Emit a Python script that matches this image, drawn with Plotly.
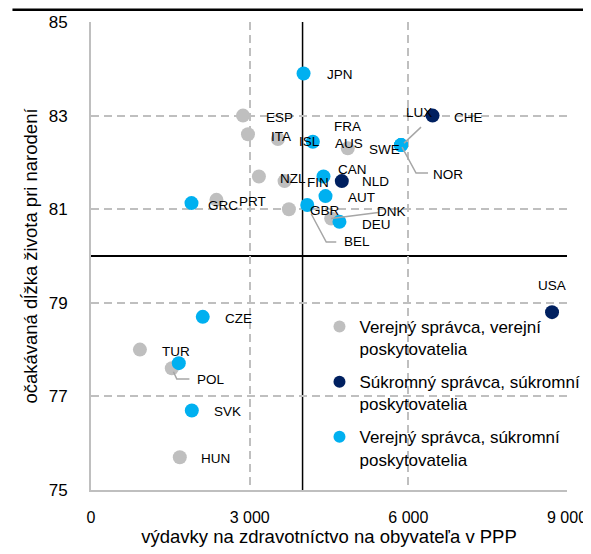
import plotly.graph_objects as go

# verejný správca, verejní poskytovatelia
gray_codes = ["ESP", "ITA", "ISL", "NZL", "FIN", "PRT", "GBR", "FRA", "DNK", "TUR", "POL", "HUN"]
gray_spend = [2874, 2968, 3534, 3175, 3660, 2372, 3742, 4855, 4542, 925, 1528, 1679]
gray_life = [83.0, 82.6, 82.5, 81.7, 81.6, 81.2, 81.0, 82.3, 80.8, 78.0, 77.6, 75.7]

# súkromný správca, súkromní poskytovatelia
navy_codes = ["CHE", "NLD", "USA"]
navy_spend = [6458, 4742, 8717]
navy_life = [83.0, 81.6, 78.8]

# verejný správca, súkromní poskytovatelia
blue_codes = ["JPN", "AUS", "SWE", "LUX", "NOR", "CAN", "AUT", "BEL", "DEU", "GRC", "CZE", "", "SVK"]
blue_spend = [4019, 4194, 5862, 5862, 5862, 4396, 4434, 4089, 4698, 1900, 2113, 1660, 1906]
blue_life = [83.9, 82.44, 82.37, 82.37, 82.37, 81.7, 81.28, 81.09, 80.73, 81.13, 78.7, 77.71, 76.7]

avg_spend = 4000
avg_life = 80

series_names = [
    "Verejný správca, verejní<br>poskytovatelia",
    "Súkromný správca, súkromní<br>poskytovatelia",
    "Verejný správca, súkromní<br>poskytovatelia",
]
colors = ["#BFBFBF", "#002060", "#00B0F0"]

FONT = "Liberation Sans, Arial, sans-serif"

# posun popiskov v px (doprava, dole)
default_off = (36, 1.5)
label_off = {
    "FRA": (0, -22), "CAN": (29, -7), "SWE": (-17, 4), "USA": (0, -27),
    "LUX": (18, -33), "NOR": (47, 29), "BEL": (50, 37), "DNK": (60, -7),
    "POL": (39, 11), "ISL": (32, 2), "GRC": (32, 2), "ITA": (33, 2),
    "NZL": (34, 2.5), "FIN": (33, 1), "NLD": (34, 0), "DEU": (37, 3),
}
# vodiace čiary v px od bodu
leaders = {
    "LUX": [(3, -2), (20, -18)],
    "NOR": [(1, 2), (15, 28), (27, 28)],
    "BEL": [(4, 9), (19, 37), (29, 37)],
    "DNK": [(0, 0), (47, -6)],
    "POL": [(1.6, 3.4), (5, 10.7), (17.6, 10.7)],
}

fig = go.Figure()
groups = [
    (gray_codes, gray_spend, gray_life),
    (navy_codes, navy_spend, navy_life),
    (blue_codes, blue_spend, blue_life),
]
for i, ((codes, xs, ys), name, col) in enumerate(zip(groups, series_names, colors)):
    fig.add_trace(go.Scatter(
        x=xs, y=ys, mode="markers", name=name, legendgroup=f"g{i}",
        marker=dict(color=col, size=14, line=dict(width=0)),
        hoverinfo="skip",
    ))

annotations = []
shapes = []
for codes, xs, ys in groups:
    for c, x, y in zip(codes, xs, ys):
        if not c:
            continue
        dx, dy = label_off.get(c, default_off)
        annotations.append(dict(
            x=x, y=y, xref="x", yref="y", text=c, showarrow=False,
            xshift=dx, yshift=-dy, xanchor="center", yanchor="middle",
            font=dict(family=FONT, size=13.5, color="#000000"),
        ))
        if c in leaders:
            pts = leaders[c]
            path = "M " + " L ".join(f"{px},{-py}" for px, py in pts)
            shapes.append(dict(
                type="path", xref="x", yref="y", xsizemode="pixel", ysizemode="pixel",
                xanchor=x, yanchor=y, path=path,
                line=dict(color="#A6A6A6", width=1.5),
            ))

# priemery
shapes.append(dict(type="line", xref="x", yref="paper", x0=avg_spend, x1=avg_spend, y0=0, y1=1,
                   line=dict(color="#000000", width=1.5), layer="between"))
shapes.append(dict(type="line", xref="paper", yref="y", x0=0, x1=1, y0=avg_life, y1=avg_life,
                   line=dict(color="#000000", width=2), layer="between"))
# horná čiara
shapes.append(dict(type="line", xref="paper", yref="paper", x0=-0.165, x1=1.038, y0=1.026, y1=1.026,
                   line=dict(color="#000000", width=2.5)))

# stránka má 8 px okraj, preto menší graf
fig.update_layout(
    width=583, height=546,
    margin=dict(l=83, r=24, t=14, b=64, autoexpand=False),
    plot_bgcolor="white", paper_bgcolor="white",
    separators=", ",
    font=dict(family=FONT, size=17, color="#000000"),
    showlegend=True,
    legend=dict(
        x=0.48, y=0.387, xanchor="left", yanchor="top",
        bgcolor="rgba(0,0,0,0)", valign="top", itemsizing="constant",
        traceorder="grouped", tracegroupgap=8,
        font=dict(family=FONT, size=17, color="#000000"),
    ),
    annotations=annotations,
    shapes=shapes,
    xaxis=dict(
        range=[0, 9000], tick0=0, dtick=3000, tickformat=",",
        showgrid=True, gridcolor="#BFBFBF", gridwidth=1.8, griddash="8px,5px",
        showline=True, linecolor="#BFBFBF", linewidth=2, zeroline=False,
        ticks="", ticklabelstandoff=12, automargin=False,
        tickfont=dict(family=FONT, size=16, color="#000000"),
        title=dict(text="výdavky na zdravotníctvo na obyvateľa v PPP", standoff=4,
                   font=dict(family=FONT, size=18.5, color="#000000")),
    ),
    yaxis=dict(
        range=[75, 85], tick0=75, dtick=2,
        showgrid=True, gridcolor="#BFBFBF", gridwidth=1.8, griddash="8px,5px",
        showline=True, linecolor="#BFBFBF", linewidth=2, zeroline=False,
        ticks="", ticklabelstandoff=18, automargin=False,
        tickfont=dict(family=FONT, size=17, color="#000000"),
        title=dict(text="očakávaná dĺžka života pri narodení", standoff=6,
                   font=dict(family=FONT, size=18.5, color="#000000")),
    ),
)

fig.write_html("out.html")
